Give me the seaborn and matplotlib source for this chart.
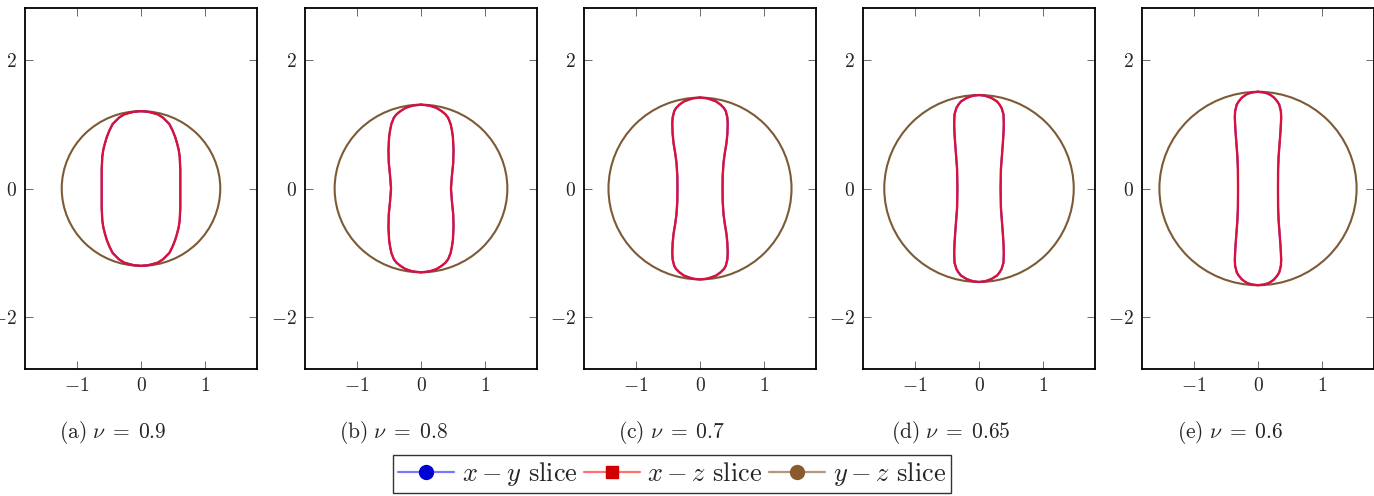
import numpy as np
import matplotlib
matplotlib.use("Agg")
import matplotlib.pyplot as plt
from matplotlib.patches import Ellipse
from matplotlib.lines import Line2D
import seaborn as sns

# poisson ratio of each panel
nu_values = ["0.9", "0.8", "0.7", "0.65", "0.6"]
panel_tags = ["a", "b", "c", "d", "e"]

# y-z slice: semi-axes (horizontal, vertical) of the near-circular outline
yz_rx = [1.23, 1.34, 1.42, 1.47, 1.53]
yz_ry = [1.20, 1.30, 1.41, 1.45, 1.50]

# x-y / x-z slice: half-width profile, (height, half width), upper half
prof_a_y = [1.20, 1.19, 1.17, 1.15, 1.10, 1.00, 0.90, 0.80, 0.70, 0.60, 0.50, 0.30, 0.00]
prof_a_w = [0.00, 0.11, 0.19, 0.26, 0.34, 0.44, 0.49, 0.53, 0.56, 0.585, 0.60, 0.61, 0.61]

prof_b_y = [1.30, 1.29, 1.28, 1.25, 1.20, 1.15, 1.10, 1.00, 0.90, 0.80, 0.60, 0.40, 0.20, 0.00]
prof_b_w = [0.00, 0.10, 0.15, 0.24, 0.32, 0.38, 0.42, 0.46, 0.48, 0.495, 0.505, 0.50, 0.48, 0.465]

prof_c_y = [1.41, 1.40, 1.38, 1.35, 1.30, 1.25, 1.20, 1.10, 1.00, 0.85, 0.70, 0.55, 0.40, 0.20, 0.00]
prof_c_w = [0.00, 0.10, 0.17, 0.25, 0.32, 0.37, 0.40, 0.425, 0.43, 0.425, 0.41, 0.385, 0.365, 0.352, 0.35]

prof_d_y = [1.45, 1.44, 1.42, 1.40, 1.35, 1.30, 1.25, 1.15, 1.00, 0.85, 0.70, 0.50, 0.30, 0.00]
prof_d_w = [0.00, 0.09, 0.15, 0.20, 0.28, 0.32, 0.35, 0.38, 0.385, 0.38, 0.37, 0.355, 0.34, 0.335]

prof_e_y = [1.50, 1.49, 1.47, 1.44, 1.41, 1.35, 1.30, 1.20, 1.10, 0.90, 0.70, 0.50, 0.30, 0.00]
prof_e_w = [0.00, 0.09, 0.16, 0.21, 0.25, 0.30, 0.33, 0.355, 0.36, 0.35, 0.335, 0.32, 0.312, 0.31]

profiles = [(prof_a_y, prof_a_w), (prof_b_y, prof_b_w), (prof_c_y, prof_c_w),
            (prof_d_y, prof_d_w), (prof_e_y, prof_e_w)]

blue = "#2020e8"
red = "#e8102e"
brown = "#7d5a36"

sns.set_style("ticks")
plt.rcParams["mathtext.fontset"] = "cm"
plt.rcParams["font.family"] = ["DejaVu Serif"]


def closed_outline(py, pw):
    py = np.asarray(py)
    pw = np.asarray(pw)
    # right side top -> bottom, then left side bottom -> top (mirror of upper half)
    ry = np.concatenate([py, -py[::-1][1:]])
    rw = np.concatenate([pw, pw[::-1][1:]])
    xs = np.concatenate([rw, -rw[::-1][1:]])
    ys = np.concatenate([ry, ry[::-1][1:]])
    return xs, ys


fig = plt.figure(figsize=(13.74, 4.96), dpi=100)
lefts = [25, 305, 584, 863, 1142]
W, H = 1374.0, 496.0

for i in range(5):
    ax = fig.add_axes([lefts[i] / W, (H - 369) / H, 232 / W, 361 / H])
    xs, ys = closed_outline(*profiles[i])
    ax.add_patch(Ellipse((0, 0), 2 * yz_rx[i], 2 * yz_ry[i], fill=False,
                         ec=brown, lw=1.5, zorder=2))
    sns.lineplot(x=xs, y=ys, sort=False, estimator=None, ax=ax,
                 color=blue, lw=1.4, zorder=3)
    sns.lineplot(x=xs, y=ys, sort=False, estimator=None, ax=ax,
                 color=red, lw=1.7, alpha=0.92, zorder=4,
                 solid_joinstyle="round")
    ax.set_xlim(-1.8, 1.8)
    ax.set_ylim(-2.8, 2.8)
    ax.set_xticks([-1, 0, 1])
    ax.set_xticklabels([r"$-1$", r"$0$", r"$1$"])
    ax.set_yticks([-2, 0, 2])
    ax.set_yticklabels([r"$-2$", r"$0$", r"$2$"])
    ax.tick_params(direction="in", length=6, width=0.6, color="#555555",
                   top=True, right=True, labelsize=14, pad=6)
    for s in ax.spines.values():
        s.set_linewidth(1.3)
        s.set_color("black")
    cx = (lefts[i] + 116 - 28) / W
    fig.text(cx, 1 - 433 / H,
             r"$\mathrm{(%s)}\ \nu\;=\;%s$" % (panel_tags[i], nu_values[i]),
             ha="center", va="center", fontsize=15.5)

handles = [
    Line2D([], [], color="#7878ff", lw=1.6, marker="o", markersize=10,
           markerfacecolor="#0000d0", markeredgecolor="#0000d0"),
    Line2D([], [], color="#ff7070", lw=1.6, marker="s", markersize=9,
           markerfacecolor="#d00000", markeredgecolor="#d00000"),
    Line2D([], [], color="#b09878", lw=1.6, marker="o", markersize=10,
           markerfacecolor="#8a5a2c", markeredgecolor="#8a5a2c"),
]
labels = [r"$x - y$ $\mathrm{slice}$", r"$x - z$ $\mathrm{slice}$", r"$y - z$ $\mathrm{slice}$"]
leg = fig.legend(handles, labels, loc="center", bbox_to_anchor=(672 / W, 1 - 474 / H),
                 ncol=3, fontsize=19, frameon=True, fancybox=False,
                 handlelength=2.1, handletextpad=0.3, columnspacing=0.25,
                 borderpad=0.2)
leg.get_frame().set_edgecolor("black")
leg.get_frame().set_linewidth(1.0)

fig.savefig("out.png", dpi=100)
